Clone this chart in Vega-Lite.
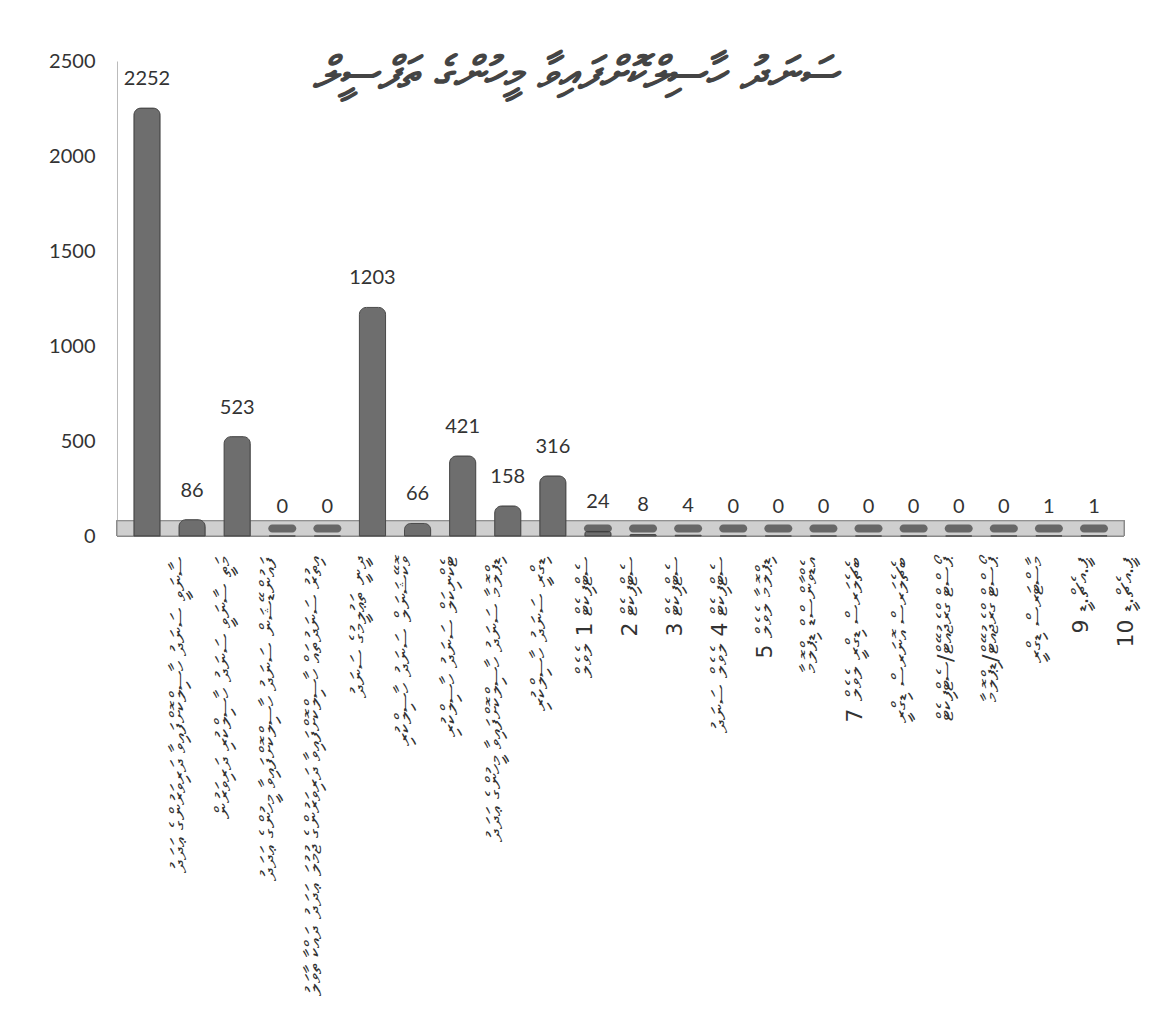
{
  "$schema": "https://vega.github.io/schema/vega-lite/v6.json",
  "width": 1007,
  "height": 475,
  "padding": {"left": 48, "top": 51, "right": 20, "bottom": 10},
  "background": "white",
  "config": {"view": {"stroke": null}},
  "title": {
    "text": "ސަނަދު ހާސިލްކޮށްފައިވާ މީހުންގެ ތަފްސީލް",
    "font": "DejaVu Sans",
    "fontSize": 44,
    "fontStyle": "italic",
    "fontWeight": "bold",
    "color": "#444444",
    "anchor": "middle",
    "dx": -45,
    "dy": 50
  },
  "data": {
    "values": [
      {"k": 1, "label": "ސާނަވީ ސަނަދު ހާސިލްކޮށްފައިވާ ދަރިވަރުންގެ ޢަދަދު", "value": 2252},
      {"k": 2, "label": "މަތީ ސާނަވީ ސަނަދު ހާސިލްކުރި ދަރިވަރުން", "value": 86},
      {"k": 3, "label": "ފައުންޑޭޝަން ސަނަދު ހާސިލްކޮށްފައިވާ މީހުންގެ ޢަދަދު", "value": 523},
      {"k": 4, "label": "އިތުރު ސަނަދުތައް ހާސިލްކޮށްފައިވާ ދަރިވަރުންގެ ޖުމުލަ ޢަދަދު ދައްކާ ތާވަލު", "value": 0},
      {"k": 5, "label": "ދީނީ ތަޢުލީމުގެ ސަނަދު", "value": 0},
      {"k": 6, "label": "ވޮކޭޝަނަލް ސަނަދު ހާސިލްކުރި", "value": 1203},
      {"k": 7, "label": "ޓެކްނިކަލް ސަނަދު ހާސިލްކުރި", "value": 66},
      {"k": 8, "label": "ޑިޕްލޮމާ ސަނަދު ހާސިލްކޮށްފައިވާ މީހުންގެ ޢަދަދު", "value": 421},
      {"k": 9, "label": "ޑިގްރީ ސަނަދު ހާސިލްކުރި", "value": 158},
      {"k": 10, "label": "ސެޓްފިކެޓް 1 ލެވެލް", "value": 316},
      {"k": 11, "label": "ސެޓްފިކެޓް 2", "value": 24},
      {"k": 12, "label": "ސެޓްފިކެޓް 3", "value": 8},
      {"k": 13, "label": "ސެޓްފިކެޓް 4 ލެވެލް ސަނަދު", "value": 4},
      {"k": 14, "label": "ޑިޕްލޮމާ ލެވެލް 5", "value": 0},
      {"k": 15, "label": "އެޑްވާންސްޑް ޑިޕްލޮމާ", "value": 0},
      {"k": 16, "label": "ބެޗެލަރސް ޑިގްރީ ލެވެލް 7", "value": 0},
      {"k": 17, "label": "ބެޗެލަރސް އޮނަރސް ޑިގްރީ", "value": 0},
      {"k": 18, "label": "ޕޯސްޓް ގްރެޖުއޭޓް/ސެޓްފިކެޓް", "value": 0},
      {"k": 19, "label": "ޕޯސްޓް ގްރެޖުއޭޓް/ޑިޕްލޮމާ", "value": 0},
      {"k": 20, "label": "މާސްޓަރސް ޑިގްރީ", "value": 0},
      {"k": 21, "label": "ޕީ.އެޗް.ޑީ 9", "value": 1},
      {"k": 22, "label": "ޕީ.އެޗް.ޑީ 10", "value": 1}
    ]
  },
  "encoding": {
    "x": {
      "field": "label",
      "type": "nominal",
      "sort": [
        "ސާނަވީ ސަނަދު ހާސިލްކޮށްފައިވާ ދަރިވަރުންގެ ޢަދަދު",
        "މަތީ ސާނަވީ ސަނަދު ހާސިލްކުރި ދަރިވަރުން",
        "ފައުންޑޭޝަން ސަނަދު ހާސިލްކޮށްފައިވާ މީހުންގެ ޢަދަދު",
        "އިތުރު ސަނަދުތައް ހާސިލްކޮށްފައިވާ ދަރިވަރުންގެ ޖުމުލަ ޢަދަދު ދައްކާ ތާވަލު",
        "ދީނީ ތަޢުލީމުގެ ސަނަދު",
        "ވޮކޭޝަނަލް ސަނަދު ހާސިލްކުރި",
        "ޓެކްނިކަލް ސަނަދު ހާސިލްކުރި",
        "ޑިޕްލޮމާ ސަނަދު ހާސިލްކޮށްފައިވާ މީހުންގެ ޢަދަދު",
        "ޑިގްރީ ސަނަދު ހާސިލްކުރި",
        "ސެޓްފިކެޓް 1 ލެވެލް",
        "ސެޓްފިކެޓް 2",
        "ސެޓްފިކެޓް 3",
        "ސެޓްފިކެޓް 4 ލެވެލް ސަނަދު",
        "ޑިޕްލޮމާ ލެވެލް 5",
        "އެޑްވާންސްޑް ޑިޕްލޮމާ",
        "ބެޗެލަރސް ޑިގްރީ ލެވެލް 7",
        "ބެޗެލަރސް އޮނަރސް ޑިގްރީ",
        "ޕޯސްޓް ގްރެޖުއޭޓް/ސެޓްފިކެޓް",
        "ޕޯސްޓް ގްރެޖުއޭޓް/ޑިޕްލޮމާ",
        "މާސްޓަރސް ޑިގްރީ",
        "ޕީ.އެޗް.ޑީ 9",
        "ޕީ.އެޗް.ޑީ 10"
      ],
      "scale": {"paddingInner": 0.42, "paddingOuter": 0.375},
      "axis": {
        "title": null,
        "labelAngle": -90,
        "labelAlign": "right",
        "labelBaseline": "middle",
        "labelFont": "DejaVu Sans",
        "labelFontSize": 22,
        "labelColor": "#333333",
        "labelOffset": 32,
        "labelPadding": 20,
        "labelLimit": 500,
        "ticks": false,
        "domain": false
      }
    }
  },
  "layer": [
    {
      "mark": {"type": "rect", "color": "#cfcfcf", "stroke": "#8a8a8a", "strokeWidth": 1},
      "encoding": {
        "x": null,
        "y": {"datum": 0, "type": "quantitative", "scale": {"domain": [0, 2500], "nice": false}},
        "y2": {"datum": 80}
      }
    },
    {
      "mark": {"type": "bar", "color": "#6e6e6e", "stroke": "#4a4a4a", "strokeWidth": 1, "cornerRadiusTopLeft": 7, "cornerRadiusTopRight": 7},
      "encoding": {
        "y": {
          "field": "value",
          "type": "quantitative",
          "scale": {"domain": [0, 2500], "nice": false},
          "axis": {
            "title": null,
            "values": [0, 500, 1000, 1500, 2000, 2500],
            "format": "d",
            "grid": false,
            "ticks": false,
            "labelFont": "Lato",
            "labelFontSize": 20,
            "labelColor": "#333333",
            "labelPadding": 22,
            "domainColor": "#bbbbbb"
          }
        }
      }
    },
    {
      "transform": [{"filter": "datum.value < 30"}],
      "mark": {"type": "tick", "color": "#3a3a3a", "thickness": 8, "size": 28, "cornerRadius": 4},
      "encoding": {
        "y": {"datum": 40, "type": "quantitative", "scale": {"domain": [0, 2500], "nice": false}}
      }
    },
    {
      "mark": {"type": "text", "font": "Lato", "fontSize": 20, "color": "#333333", "dy": -19, "baseline": "bottom"},
      "encoding": {
        "y": {"field": "value", "type": "quantitative", "scale": {"domain": [0, 2500], "nice": false}},
        "text": {"field": "value", "type": "quantitative"}
      }
    }
  ]
}
